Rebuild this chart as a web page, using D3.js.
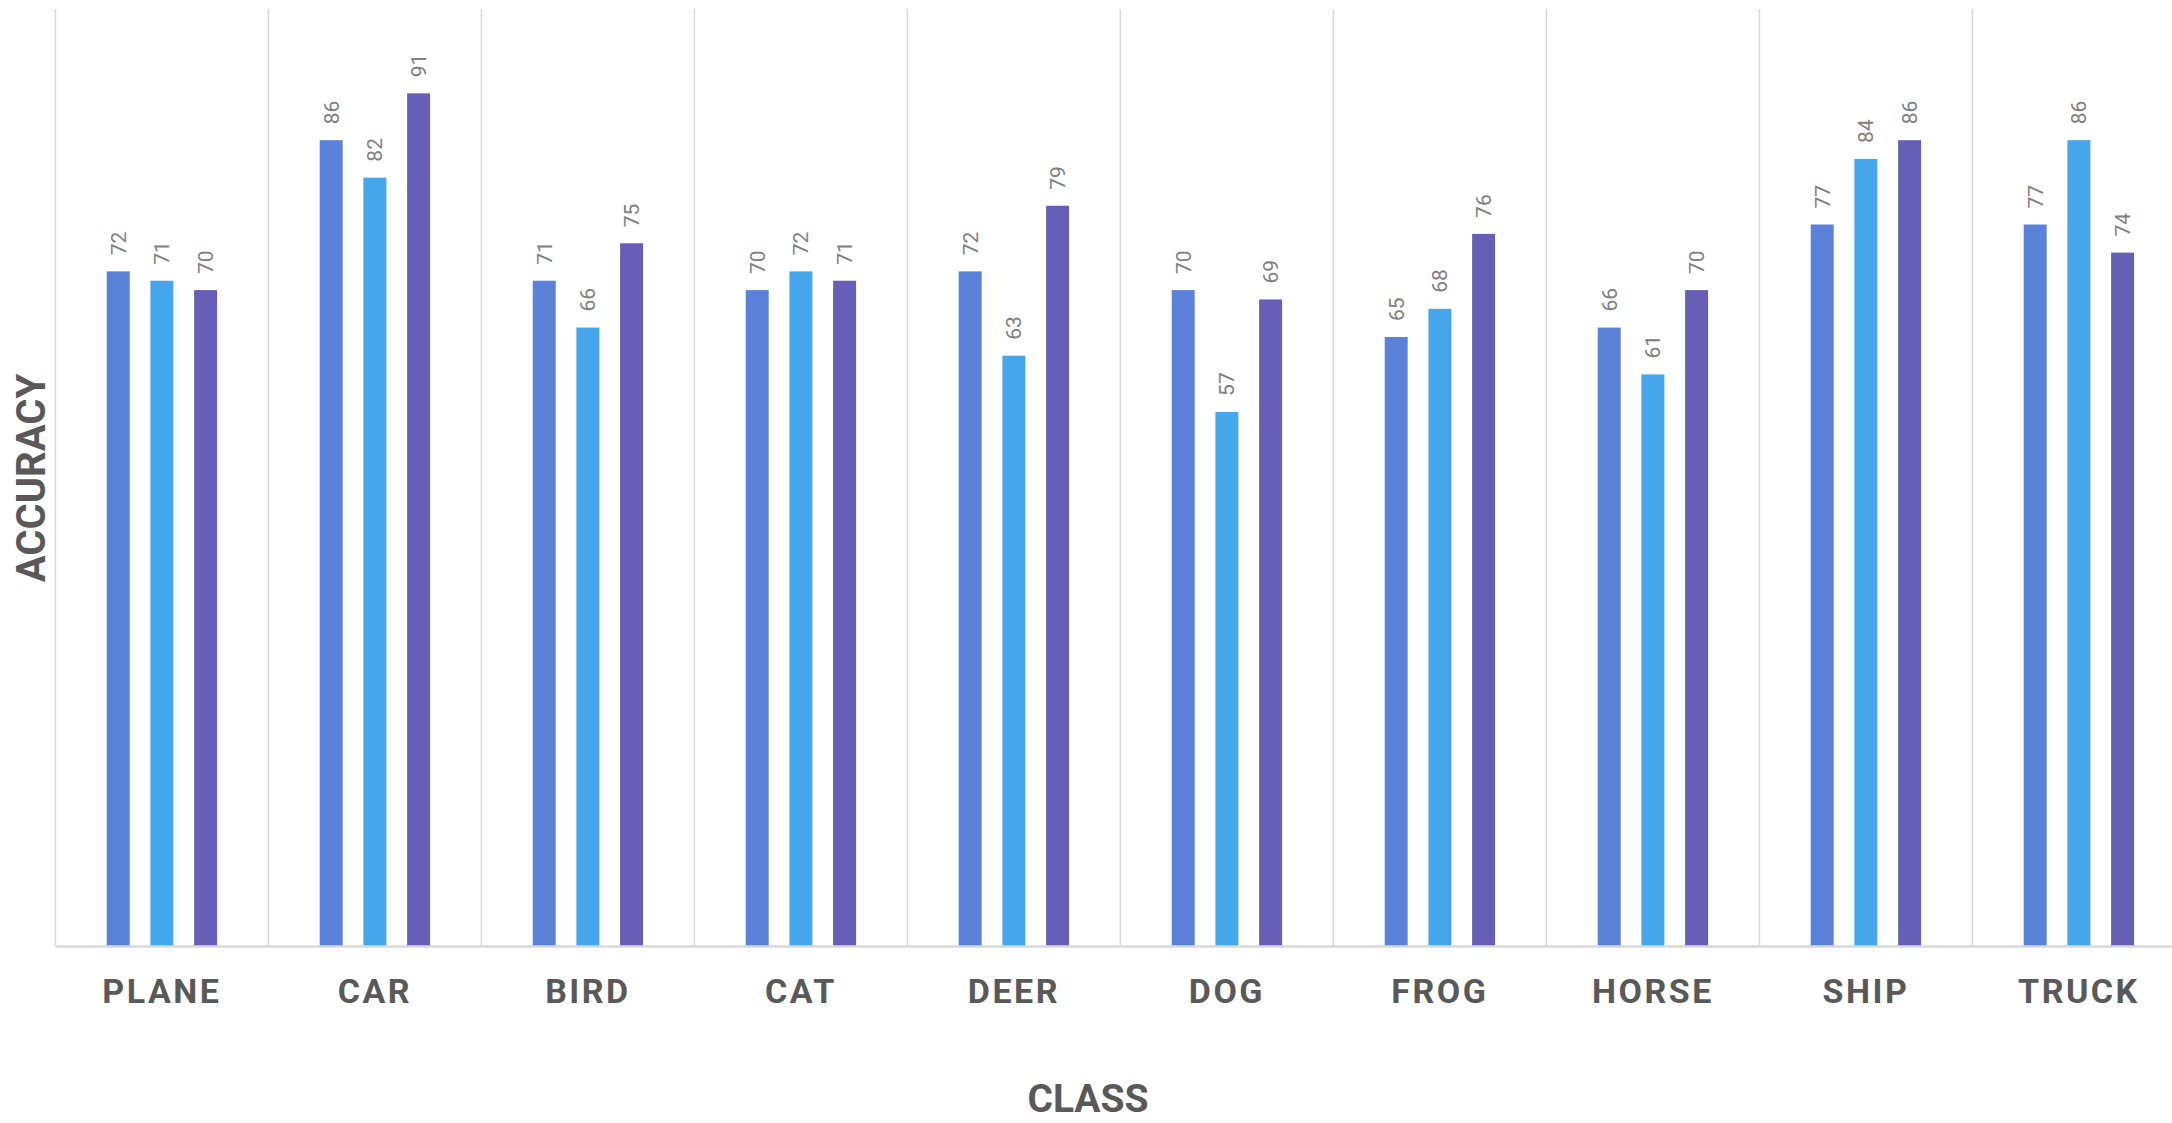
<!DOCTYPE html>
<html>
<head>
<meta charset="utf-8">
<script src="https://cdn.jsdelivr.net/npm/d3@7"></script>
<style>
  html, body { margin: 0; padding: 0; background: #fff; }
  svg { display: block; }
</style>
</head>
<body>
<svg id="chart" width="2172" height="1123"></svg>
<script>
// Per-class accuracy for three models
const categories = ["PLANE", "CAR", "BIRD", "CAT", "DEER", "DOG", "FROG", "HORSE", "SHIP", "TRUCK"];
const seriesNames = ["Model A", "Model B", "Model C"];
const modelA = [72, 86, 71, 70, 72, 70, 65, 66, 77, 77];
const modelB = [71, 82, 66, 72, 63, 57, 68, 61, 84, 86];
const modelC = [70, 91, 75, 71, 79, 69, 76, 70, 86, 74];
const seriesColors = ["#5B82D9", "#46A6EC", "#675EB8"];
const yDomain = [0, 100];

const series = [modelA, modelB, modelC];
const rows = categories.map((c, i) => ({
  category: c,
  values: series.map((s, k) => ({ key: seriesNames[k], k, value: s[i] }))
}));

const svg = d3.select("#chart");
const plotLeft = 55.4, plotTop = 9, plotBottom = 946, bandWidth = 213;

const x0 = d3.scaleBand()
  .domain(categories)
  .range([plotLeft, plotLeft + bandWidth * categories.length])
  .paddingInner(0).paddingOuter(0);

const x1 = d3.scaleBand()
  .domain(seriesNames)
  .range([0, x0.bandwidth()])
  .paddingInner(0.474)
  .paddingOuter(1.174);

const y = d3.scaleLinear().domain(yDomain).range([plotBottom, plotTop]);

// vertical separators between classes
const gridColor = "#D9D9D9";
svg.append("g")
  .selectAll("line")
  .data(categories)
  .join("line")
  .attr("x1", d => x0(d))
  .attr("x2", d => x0(d))
  .attr("y1", y(yDomain[1]))
  .attr("y2", y(0))
  .attr("stroke", gridColor)
  .attr("stroke-width", 1.5);

// bars
const groups = svg.append("g")
  .selectAll("g")
  .data(rows)
  .join("g")
  .attr("transform", d => `translate(${x0(d.category)},0)`);

groups.selectAll("rect")
  .data(d => d.values)
  .join("rect")
  .attr("x", d => x1(d.key))
  .attr("width", x1.bandwidth())
  .attr("y", d => y(d.value))
  .attr("height", d => y(0) - y(d.value))
  .attr("fill", d => seriesColors[d.k]);

// value labels, rotated
groups.selectAll("text")
  .data(d => d.values)
  .join("text")
  .attr("transform", d => `translate(${x1(d.key) + x1.bandwidth() / 2 + 7.5},${y(d.value) - 16}) rotate(-90)`)
  .attr("text-anchor", "start")
  .attr("font-family", "Roboto, 'Liberation Sans', sans-serif")
  .attr("font-size", 21)
  .attr("fill", "#808080")
  .text(d => d.value);

// x axis baseline and category labels
const xAxis = d3.axisBottom(x0).tickSize(0).tickPadding(0);
const gx = svg.append("g")
  .attr("transform", `translate(0,${plotBottom})`)
  .call(xAxis);
gx.select(".domain")
  .attr("stroke", gridColor)
  .attr("stroke-width", 2.5);
gx.selectAll(".tick text")
  .attr("y", 57)
  .attr("dy", 0)
  .attr("font-family", "Roboto, 'Liberation Sans', sans-serif")
  .attr("font-weight", "bold")
  .attr("font-size", 34)
  .attr("letter-spacing", 2.5)
  .attr("fill", "#595959");

// axis titles
svg.append("text")
  .attr("transform", `translate(45,478) rotate(-90)`)
  .attr("text-anchor", "middle")
  .attr("font-family", "Roboto, 'Liberation Sans', sans-serif")
  .attr("font-weight", "bold")
  .attr("font-size", 40)
  .attr("fill", "#595959")
  .text("ACCURACY");

svg.append("text")
  .attr("x", 1088)
  .attr("y", 1112)
  .attr("text-anchor", "middle")
  .attr("font-family", "Roboto, 'Liberation Sans', sans-serif")
  .attr("font-weight", "bold")
  .attr("font-size", 39)
  .attr("fill", "#595959")
  .text("CLASS");
</script>
</body>
</html>
